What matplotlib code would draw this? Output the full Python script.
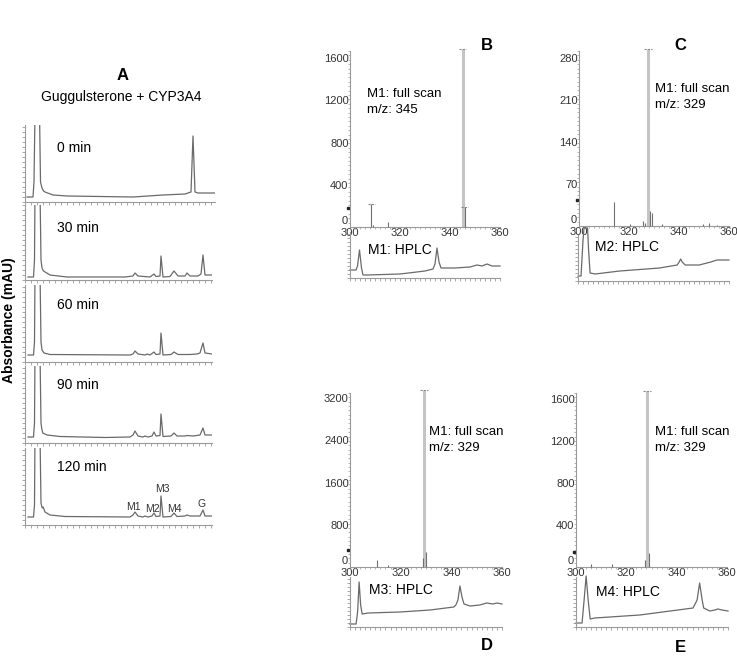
import matplotlib
matplotlib.use("Agg")
import matplotlib.pyplot as plt
from matplotlib.ticker import MultipleLocator, NullLocator, FixedLocator

plt.rcParams['font.family'] = ['Liberation Sans', 'DejaVu Sans']

# ---------------- Panel A: HPLC chromatograms (time in min, absorbance in mAU) ----------------
time_labels = ["0 min", "30 min", "60 min", "90 min", "120 min"]

t0_time = [0.2, 0.8, 0.9, 1.0, 1.45, 1.55, 1.7, 1.85, 2.0, 2.8, 4.2, 10.8, 13.8, 16.0, 16.6, 16.8, 17.0, 17.3, 18.0, 19.0]
t0_abs  = [5, 5, 20, 90, 90, 20, 14, 11, 10, 7, 6, 5, 7, 8, 10, 66, 10, 9, 9, 9]

t30_time = [0.3, 0.85, 0.95, 1.0, 1.5, 1.6, 1.7, 1.85, 2.5, 4.2, 10.0, 10.8, 11.0, 11.3, 12.5, 12.9, 13.1, 13.5, 13.6, 13.8,
            14.5, 14.9, 15.3, 16.0, 16.2, 16.5, 17.3, 17.6, 17.8, 18.0, 18.7]
t30_abs  = [3, 3, 20, 90, 90, 20, 12, 9, 5, 3, 3, 4, 7, 4, 3, 6, 3.5, 4, 24, 3,
            3.5, 9, 4, 4, 7, 4, 4, 6, 25, 5, 5]

t60_time = [0.3, 0.85, 0.95, 1.0, 1.5, 1.6, 1.7, 1.9, 2.5, 10.5, 10.8, 11.0, 11.3, 12.0, 12.2, 12.5, 12.9, 13.1, 13.5, 13.6,
            13.8, 14.6, 14.9, 15.3, 16.5, 17.2, 17.5, 17.8, 18.0, 18.7]
t60_abs  = [7, 7, 20, 90, 90, 20, 12, 9, 7.5, 7, 8, 11, 8, 7, 8, 7, 10, 7.5, 8, 29,
            7, 7.5, 10, 7.5, 7.5, 8, 9, 19, 9, 8]

t90_time = [0.3, 0.85, 0.95, 1.0, 1.5, 1.6, 1.68, 1.78, 2.2, 3.5, 8.0, 10.5, 10.8, 11.0, 11.3, 11.8, 12.0, 12.3, 12.7, 12.9,
            13.1, 13.5, 13.6, 13.8, 14.6, 14.9, 15.2, 16.0, 16.2, 16.8, 17.5, 17.8, 18.0, 18.7]
t90_abs  = [6, 6, 20, 90, 90, 20, 14, 10, 8, 6.5, 5.5, 6, 8, 12, 7, 6, 7, 6, 7, 11,
            7, 7.5, 29, 6.5, 7, 10, 7, 7, 7.5, 7, 8, 15, 8, 8]

t120_time = [0.3, 0.85, 0.95, 1.0, 1.5, 1.6, 1.72, 1.82, 2.0, 2.5, 4.0, 10.5, 10.8, 11.0, 11.3, 11.8, 12.0, 12.3, 12.7, 12.9,
             13.1, 13.5, 13.6, 13.8, 14.6, 14.9, 15.2, 16.0, 16.2, 16.5, 17.5, 17.8, 18.0, 18.7]
t120_abs  = [8, 8, 20, 90, 90, 22, 17, 18, 13, 10, 8.5, 8, 10, 13, 9, 8, 9, 8, 9, 12,
             8.5, 9, 29, 8, 8.5, 12, 8.5, 9, 10, 9, 9, 15, 9, 9]

peak_names = ["M1", "M2", "M3", "M4", "G"]
peak_name_time = [10.8, 12.7, 13.7, 14.9, 17.7]
peak_name_abs = [13, 11, 31, 11, 16]

# ---------------- Panels B-E: mass spectra (m/z, intensity) ----------------
B_mz  = [308.5, 309.2, 315.0, 345.0, 345.8]
B_int = [220, 15, 45, 1690, 185]
C_mz  = [314.0, 320.5, 325.5, 326.5, 327.5, 328.3, 329.0, 333.0, 349.5, 352.0, 355.0]
C_int = [40, 4, 8, 5, 295, 25, 22, 3, 3, 5, 2]
D_mz  = [310.8, 315.0, 328.8, 329.3, 329.9]
D_int = [130, 38, 170, 3350, 284]
E_mz  = [306.0, 314.4, 327.6, 328.2, 328.9]
E_int = [30, 25, 70, 1676, 133]

B_yticks = [0, 400, 800, 1200, 1600]
C_yticks = [0, 70, 140, 210, 280]
D_yticks = [0, 800, 1600, 2400, 3200]
E_yticks = [0, 400, 800, 1200, 1600]
mz_ticks = [300, 320, 340, 360]

# ---------------- HPLC traces of the isolated metabolites (time, absorbance) ----------------
B_hplc_t = [0, 1.2, 1.5, 1.9, 2.3, 2.6, 3.5, 10, 15, 16.6, 17.0, 17.4, 17.8, 18.2, 21, 24, 25.4, 26.4, 27.4, 28.4, 30]
B_hplc_a = [8, 8, 12, 28, 10, 3, 3, 4, 7, 9, 14, 30, 16, 10, 10, 11, 13, 12, 14, 12, 12]
C_hplc_t = [0, 0.6, 1.0, 1.2, 1.9, 2.1, 2.4, 3.4, 8.3, 16.2, 19.7, 20.1, 20.4, 20.7, 21.3, 24.1, 25.6, 26.4, 27.6, 30]
C_hplc_a = [5, 5, 41, 53, 53, 31, 8, 7, 10, 13, 16, 19, 22, 19, 16, 16, 18, 19, 21, 21]
D_hplc_t = [0, 1.2, 1.5, 1.8, 2.1, 2.4, 3.6, 9.9, 15.8, 20.5, 20.9, 21.3, 21.7, 22.1, 22.5, 23.7, 25.6, 27.0, 28.2, 29.0, 30]
D_hplc_a = [3, 3, 15, 45, 22, 13, 14, 15, 17, 20, 22, 27, 41, 30, 23, 21, 22, 24, 23, 24, 23]
E_hplc_t = [0, 1.2, 1.6, 2.0, 2.4, 2.8, 3.7, 12.6, 23.1, 23.9, 24.4, 24.9, 25.2, 26.4, 27.4, 28.0, 28.8, 30]
E_hplc_a = [4, 4, 27, 51, 27, 8, 9, 12, 19, 27, 44, 27, 19, 16, 17, 18, 17, 16]

# ---------------- Figure ----------------
W, H = 737, 664
fig = plt.figure(figsize=(W / 100, H / 100), dpi=100)
fig.patch.set_facecolor('white')

SPINE = '#9a9a9a'
TRACE = '#6a6a6a'


def add_ax(l, t, r, b):
    return fig.add_axes([l / W, 1 - b / H, (r - l) / W, (b - t) / H])


def ftext(x, y, s, **kw):
    fig.text(x / W, 1 - y / H, s, **kw)


def style_trace_axes(ax, xstep, ystep):
    for s in ['top', 'right']:
        ax.spines[s].set_visible(False)
    for s in ['left', 'bottom']:
        ax.spines[s].set_color(SPINE)
        ax.spines[s].set_linewidth(0.8)
    ax.xaxis.set_major_locator(NullLocator())
    ax.yaxis.set_major_locator(NullLocator())
    ax.xaxis.set_minor_locator(MultipleLocator(xstep))
    ax.yaxis.set_minor_locator(MultipleLocator(ystep))
    ax.tick_params(which='minor', length=2, width=0.6, color=SPINE, direction='out')
    ax.set_facecolor('none')


# Panel A
ftext(123, 75, "A", fontsize=12, fontweight='bold', ha='center', va='center')
ftext(121, 97, "Guggulsterone + CYP3A4", fontsize=10, ha='center', va='center')
ftext(9, 320, "Absorbance (mAU)", fontsize=10, fontweight='bold', rotation=90, ha='center', va='center')

chrom_t = [t0_time, t30_time, t60_time, t90_time, t120_time]
chrom_a = [t0_abs, t30_abs, t60_abs, t90_abs, t120_abs]
boxes = [(125, 202, 215), (205, 280, 212), (285, 362, 212), (366, 443, 212), (448, 525, 212)]
label_y = [148, 228, 305, 385, 467]
for i in range(5):
    top, bot, right = boxes[i]
    ax = add_ax(25, top, right, bot)
    ax.plot(chrom_t[i], chrom_a[i], color=TRACE, lw=0.9)
    ax.set_xlim(0, (right - 25) / 10)
    ax.set_ylim(0, bot - top)
    style_trace_axes(ax, 0.6, 5)
    ftext(57, label_y[i], time_labels[i], fontsize=10, ha='left', va='center')
    if i == 4:
        for name, pt, pa in zip(peak_names, peak_name_time, peak_name_abs):
            ax.text(pt, pa, name, fontsize=7.5, ha='center', va='bottom', color='#333333')


# Mass spectra
def ms_panel(box, mz, inten, yticks, ylim_top, main_idx, capped, dot_val, txt_xy, txt_mz):
    l, t, r, b = box
    ax = add_ax(l, t, r, b)
    ax.set_xlim(300, 360)
    ax.set_ylim(0, ylim_top)
    for s in ['top', 'right']:
        ax.spines[s].set_visible(False)
    for s in ['left', 'bottom']:
        ax.spines[s].set_color(SPINE)
        ax.spines[s].set_linewidth(0.8)
    ax.set_facecolor('none')
    for k, (x, y) in enumerate(zip(mz, inten)):
        if k == main_idx:
            ax.vlines(x, 0, y, color='#c4c4c4', lw=2.2, clip_on=False, zorder=2)
        else:
            ax.vlines(x, 0, y, color='#707070', lw=0.8, clip_on=False, zorder=3)
    for k in capped:
        ax.plot([mz[k] - 1.5, mz[k] + 1.5], [inten[k], inten[k]], color='#8a8a8a', lw=0.8,
                ls=(0, (2, 1)), clip_on=False)
    ax.plot([299.2], [dot_val], marker='s', ms=1.6, color='#222222', clip_on=False)
    ax.xaxis.set_major_locator(FixedLocator(mz_ticks))
    ax.yaxis.set_major_locator(FixedLocator(yticks))
    ax.set_xticklabels([str(v) for v in mz_ticks])
    ax.set_yticklabels(['' if v == 0 else str(v) for v in yticks])
    ax.annotate("0", xy=(0, 0), xycoords='axes fraction', xytext=(-2, 6), textcoords='offset pixels',
                ha='right', va='center', fontsize=8, color='#333333')
    ax.xaxis.set_minor_locator(MultipleLocator(2))
    ax.yaxis.set_minor_locator(MultipleLocator(ylim_top / 40))
    ax.tick_params(which='major', length=0, labelsize=8, colors='#333333', pad=1)
    ax.tick_params(which='minor', length=1.5, width=0.5, color=SPINE)
    ftext(txt_xy[0], txt_xy[1], "M1: full scan", fontsize=9.5, ha='left', va='center')
    ftext(txt_xy[0], txt_xy[1] + 16, "m/z: " + txt_mz, fontsize=9.5, ha='left', va='center')
    return ax


ms_panel((350, 51, 500, 227), B_mz, B_int, B_yticks, 1667, 3, [0, 3, 4], 180, (367, 94), "345")
ms_panel((579, 51, 729, 226), C_mz, C_int, C_yticks, 292, 4, [4], 43, (655, 89), "329")
ms_panel((350, 393, 502, 567), D_mz, D_int, D_yticks, 3295, 3, [3], 320, (429, 432), "329")
ms_panel((576, 393, 727, 567), E_mz, E_int, E_yticks, 1657, 3, [3], 143, (655, 432), "329")


# HPLC insets
def hplc_panel(box, tt, aa, label, label_xy):
    l, t, r, b = box
    ax = add_ax(l, t, r, b)
    ax.plot(tt, aa, color=TRACE, lw=0.9, clip_on=False)
    ax.set_xlim(0, 30)
    ax.set_ylim(0, b - t)
    style_trace_axes(ax, 1.0, 4)
    ftext(label_xy[0], label_xy[1], label, fontsize=10, ha='left', va='center')


hplc_panel((350, 232, 500, 278), B_hplc_t, B_hplc_a, "M1: HPLC", (368, 250))
hplc_panel((578, 235, 729, 281), C_hplc_t, C_hplc_a, "M2: HPLC", (595, 247))
hplc_panel((350, 577, 502, 627), D_hplc_t, D_hplc_a, "M3: HPLC", (369, 590))
hplc_panel((576, 577, 728, 627), E_hplc_t, E_hplc_a, "M4: HPLC", (596, 592))

# Panel letters
for s, x, y in [("B", 487, 46), ("C", 680, 46), ("D", 487, 645), ("E", 680, 648)]:
    ftext(x, y, s, fontsize=12, fontweight='bold', ha='center', va='center')

fig.savefig("out.png", dpi=100, facecolor='white')
